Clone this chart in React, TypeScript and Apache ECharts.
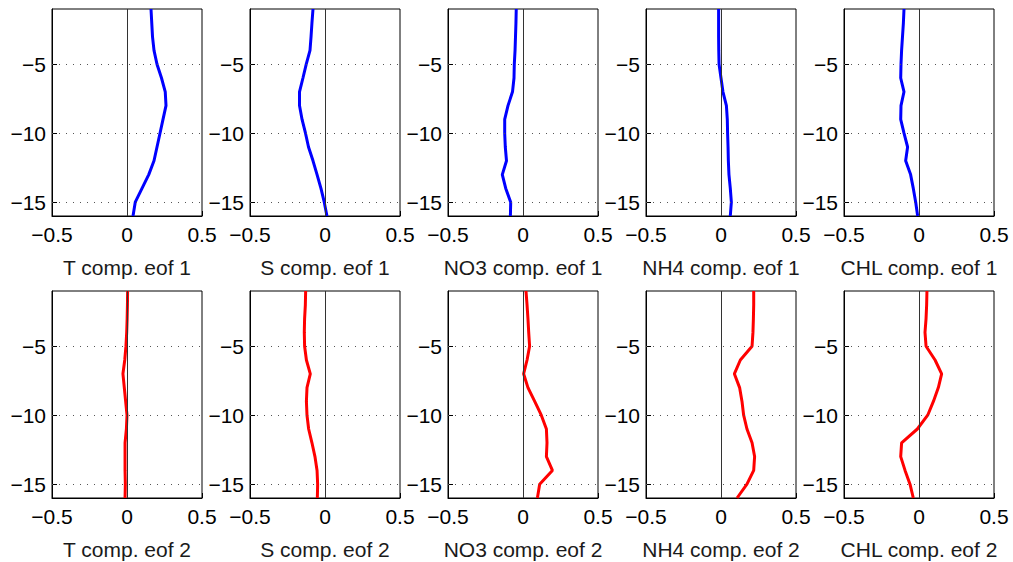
import React, { useEffect, useRef } from "react";
import * as echarts from "echarts";

const depths = [-1, -2, -3, -4, -5, -6, -7, -8, -9, -10, -11, -12, -13, -14, -15, -16];

const tEof1 = [0.16, 0.165, 0.17, 0.18, 0.2, 0.23, 0.255, 0.26, 0.24, 0.22, 0.2, 0.18, 0.145, 0.1, 0.055, 0.04];
const sEof1 = [-0.08, -0.087, -0.093, -0.1, -0.125, -0.147, -0.17, -0.17, -0.153, -0.13, -0.11, -0.08, -0.053, -0.027, -0.005, 0.013];
const no3Eof1 = [-0.045, -0.047, -0.05, -0.053, -0.058, -0.06, -0.07, -0.1, -0.122, -0.122, -0.118, -0.11, -0.138, -0.115, -0.082, -0.084];
const nh4Eof1 = [-0.016, -0.016, -0.016, -0.015, -0.013, 0, 0.013, 0.036, 0.042, 0.044, 0.047, 0.049, 0.053, 0.062, 0.069, 0.062];
const chlEof1 = [-0.1, -0.104, -0.11, -0.116, -0.12, -0.122, -0.1, -0.12, -0.122, -0.1, -0.076, -0.089, -0.056, -0.038, -0.022, -0.009];

const tEof2 = [0.004, 0.003, 0.001, -0.002, -0.007, -0.015, -0.027, -0.018, -0.009, 0, -0.004, -0.013, -0.013, -0.013, -0.011, -0.013];
const sEof2 = [-0.129, -0.131, -0.136, -0.138, -0.136, -0.124, -0.098, -0.12, -0.124, -0.12, -0.109, -0.087, -0.067, -0.053, -0.049, -0.051];
const no3Eof2 = [0.02, 0.027, 0.033, 0.038, 0.044, 0.027, 0.004, 0.033, 0.078, 0.122, 0.156, 0.16, 0.156, 0.196, 0.111, 0.096];
const nh4Eof2 = [0.218, 0.218, 0.216, 0.213, 0.207, 0.129, 0.089, 0.124, 0.14, 0.151, 0.173, 0.207, 0.224, 0.218, 0.173, 0.107];
const chlEof2 = [0.053, 0.051, 0.047, 0.04, 0.047, 0.107, 0.151, 0.129, 0.096, 0.058, -0.011, -0.116, -0.122, -0.093, -0.06, -0.038];

const panelTitles = [
  "T comp. eof 1", "S comp. eof 1", "NO3 comp. eof 1", "NH4 comp. eof 1", "CHL comp. eof 1",
  "T comp. eof 2", "S comp. eof 2", "NO3 comp. eof 2", "NH4 comp. eof 2", "CHL comp. eof 2",
];
const panelValues = [tEof1, sEof1, no3Eof1, nh4Eof1, chlEof1, tEof2, sEof2, no3Eof2, nh4Eof2, chlEof2];
const yTickValues = [-5, -10, -15];

const fmt = (v: number) => {
  if (Math.abs(v) < 1e-9) return "0";
  return (v < 0 ? "\u2212" : "") + String(Math.abs(v));
};

export default function App() {
  const ref = useRef<HTMLDivElement>(null);
  useEffect(() => {
    document.body.style.margin = "0";
    const chart = echarts.init(ref.current!, undefined, { renderer: "svg" });
    const lefts = [52, 250, 448, 646, 844];
    const tops = [9, 291];
    const grids: any[] = [];
    const xAxes: any[] = [];
    const yAxes: any[] = [];
    const series: any[] = [];
    const font = "Liberation Sans, Arial, Helvetica, sans-serif";
    for (let i = 0; i < 10; i++) {
      const row = Math.floor(i / 5);
      const col = i % 5;
      grids.push({
        left: lefts[col],
        top: tops[row],
        width: 150,
        height: 207,
        show: true,
        borderColor: "#000",
        borderWidth: 1,
        backgroundColor: "#fff",
        containLabel: false,
        outerBoundsMode: "none",
      });
      xAxes.push({
        type: "value",
        gridIndex: i,
        min: -0.5,
        max: 0.5,
        interval: 0.5,
        name: panelTitles[i],
        nameLocation: "middle",
        nameGap: 41,
        nameTextStyle: { fontSize: 21, color: "#1a1a1a", fontFamily: font },
        axisLine: { show: true, lineStyle: { color: "#000" } },
        axisTick: { show: true, inside: true, length: 5, lineStyle: { color: "#000" } },
        axisLabel: { fontSize: 21, color: "#000", margin: 8, fontFamily: font, formatter: fmt },
        splitLine: { show: false },
      });
      yAxes.push({
        type: "value",
        gridIndex: i,
        min: -16,
        max: -1,
        axisLine: { show: true, onZero: false, lineStyle: { color: "#000" } },
        axisTick: { show: true, inside: true, length: 5, customValues: yTickValues, lineStyle: { color: "#000" } },
        axisLabel: { fontSize: 21, color: "#000", margin: 6, fontFamily: font, customValues: yTickValues, formatter: fmt },
        splitLine: { show: false },
      });
      series.push({
        type: "line",
        xAxisIndex: i,
        yAxisIndex: i,
        data: depths.map((d, k) => [panelValues[i][k], d]),
        showSymbol: false,
        symbol: "none",
        lineStyle: { width: 3, color: row === 0 ? "#0000ff" : "#ff0000" },
        z: 3,
        markLine: {
          silent: true,
          symbol: "none",
          label: { show: false },
          animation: false,
          data: [
            { xAxis: 0, lineStyle: { color: "#333", width: 1, type: "solid" } },
            ...yTickValues.map((v) => ({ yAxis: v, lineStyle: { color: "#555", width: 1, type: [1, 6] } })),
          ],
        },
      });
    }
    chart.setOption({
      animation: false,
      backgroundColor: "#fff",
      grid: grids,
      xAxis: xAxes,
      yAxis: yAxes,
      series,
    });
    return () => chart.dispose();
  }, []);
  return <div ref={ref} style={{ width: 1013, height: 562 }} />;
}
